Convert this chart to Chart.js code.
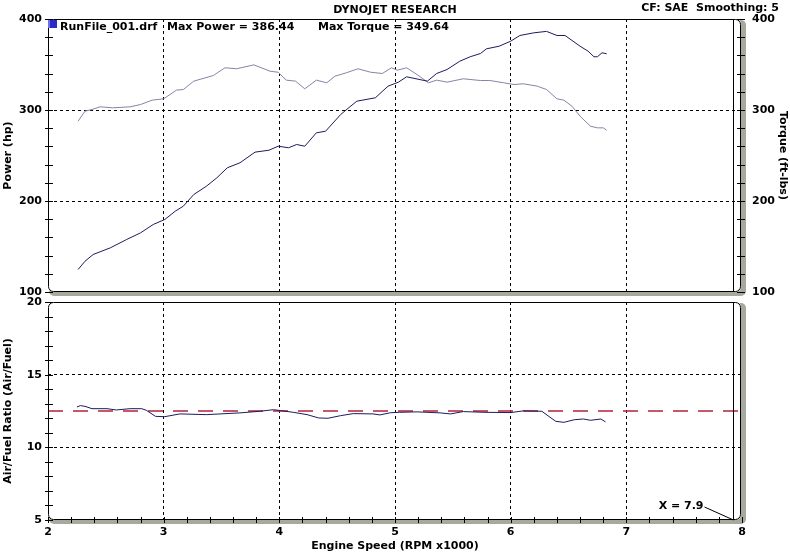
<!DOCTYPE html>
<html>
<head>
<meta charset="utf-8">
<script src="https://cdn.jsdelivr.net/npm/chart.js@4"></script>
<style>
  body { margin: 0; background: #fff; width: 790px; height: 553px; position: relative; overflow: hidden;
         font-family: "DejaVu Sans", Verdana, sans-serif; font-weight: bold; font-size: 11px; color: #000; }
  .txt { position: absolute; white-space: pre; line-height: 13px; }
  #topChart { position: absolute; left: 0; top: 0; }
  #afrChart { position: absolute; left: 0; top: 296px; }
  #legendBox { position: absolute; left: 48px; top: 20px; width: 9px; height: 8px; background: #2a2ac4; border-left: 2px solid #6f6ff0; box-sizing: border-box; }
</style>
</head>
<body>
<canvas id="topChart" width="790" height="300"></canvas>
<canvas id="afrChart" width="790" height="257"></canvas>
<div class="txt" style="left:0;width:790px;text-align:center;top:3px">DYNOJET RESEARCH</div>
<div class="txt" style="right:11px;top:1px">CF: SAE  Smoothing: 5</div>
<div id="legendBox"></div>
<div class="txt" style="left:60px;top:20px">RunFile_001.drf</div>
<div class="txt" id="maxPower" style="left:167px;top:20px"></div>
<div class="txt" id="maxTorque" style="left:318px;top:20px"></div>
<script>
// run values
const maxPower = "386.44";
const maxTorque = "349.64";
const cursorRpm = 7.92;
const cursorLabel = "X = 7.9";
const targetAfr = 12.5;

const powerRpm = [2.26, 2.32, 2.39, 2.54, 2.68, 2.80, 2.91, 3.01, 3.10, 3.17, 3.26, 3.37, 3.46, 3.55, 3.66,
  3.79, 3.91, 3.99, 4.08, 4.15, 4.22, 4.32, 4.40, 4.53, 4.61, 4.67, 4.83, 4.94, 5.03, 5.10, 5.28, 5.36,
  5.45, 5.56, 5.65, 5.74, 5.79, 5.90, 6.00, 6.08, 6.20, 6.31, 6.40, 6.47, 6.60, 6.67, 6.72, 6.75, 6.79, 6.83];
const powerHp = [124.7, 133.8, 141.2, 148.6, 157.7, 165, 174.2, 179.7, 188.8, 194.3, 207.1, 216.3, 225.5, 236.5, 242,
  253.7, 255.8, 260.2, 258.5, 262.1, 260.2, 274.9, 276.7, 295, 303.5, 309.7, 313.4, 326.2, 330.6, 336.5, 331.7, 340.1,
  344.5, 353.6, 358.5, 362.1, 367.2, 370.1, 375.6, 381.9, 384.8, 386.4, 381.9, 381.9, 370.1, 364.6, 358.5, 358.5, 362.9, 361.8];

const torqueRpm = [2.26, 2.32, 2.38, 2.45, 2.56, 2.71, 2.80, 2.90, 3.00, 3.11, 3.17, 3.26, 3.43, 3.53, 3.63,
  3.78, 3.92, 3.99, 4.06, 4.14, 4.22, 4.32, 4.41, 4.48, 4.58, 4.68, 4.79, 4.89, 4.97, 5.02, 5.10, 5.19, 5.29,
  5.36, 5.45, 5.59, 5.74, 5.82, 5.94, 6.03, 6.11, 6.23, 6.31, 6.40, 6.46, 6.53, 6.60, 6.69, 6.75, 6.80, 6.83];
const torqueFtLbs = [287.7, 298.7, 300.5, 303.5, 302.4, 303.5, 306, 310.8, 312.3, 321.8, 322.5, 331.7, 337.9, 346.4, 345.3,
  349.6, 342.6, 341.5, 332.8, 331.7, 323.3, 332.8, 329.9, 337.1, 340.9, 345.3, 341.5, 340.1, 346.4, 343.7, 346.4, 339, 329.9,
  332.8, 330.6, 334.3, 332.4, 332.4, 329.9, 328, 328.8, 326.2, 322.5, 312.3, 310.8, 304.2, 293.2, 282.2, 280.4, 280.4, 277.8];

const afrRpm = [2.25, 2.28, 2.32, 2.38, 2.51, 2.59, 2.71, 2.81, 2.85, 2.93, 3.01, 3.14, 3.37, 3.66, 3.83,
  3.95, 4.01, 4.12, 4.24, 4.34, 4.42, 4.53, 4.64, 4.81, 4.87, 4.96, 5.04, 5.19, 5.39, 5.48, 5.59, 5.77,
  6.00, 6.11, 6.27, 6.33, 6.39, 6.46, 6.55, 6.63, 6.69, 6.78, 6.82];
const afrRatio = [12.78, 12.87, 12.82, 12.66, 12.66, 12.57, 12.66, 12.66, 12.55, 12.13, 12.11, 12.30, 12.25, 12.37, 12.48,
  12.59, 12.53, 12.41, 12.25, 12.02, 12.0, 12.18, 12.32, 12.30, 12.23, 12.38, 12.41, 12.44, 12.37, 12.30, 12.46, 12.41,
  12.39, 12.51, 12.48, 12.13, 11.79, 11.72, 11.90, 11.95, 11.86, 11.95, 11.75];

const rpmTicks = [2, 3, 4, 5, 6, 7, 8];
const powerTicks = [100, 200, 300, 400];
const afrTicks = [5, 10, 15, 20];

document.getElementById("maxPower").textContent = "Max Power = " + maxPower;
document.getElementById("maxTorque").textContent = "Max Torque = " + maxTorque;

Chart.defaults.font = { family: '"DejaVu Sans", Verdana, sans-serif', size: 11, weight: "bold" };
Chart.defaults.color = "#000";

const pts = (xs, ys) => xs.map((x, i) => ({ x: x, y: ys[i] }));

// dashed grid only on inner values, the frame covers the ends
const innerGrid = (lo, hi) => ctx => (ctx.tick && ctx.tick.value > lo && ctx.tick.value < hi) ? "#000" : "rgba(0,0,0,0)";

// fixed axis width, and drop the label overhang so layout padding decides the plot box
const fixWidth = w => s => { s.width = w; s.paddingTop = 0; s.paddingBottom = 0; };

// rounded panel with grey drop shadow, minor ticks and the cursor line
function panelFrame(opts) {
  return {
    id: "panelFrame",
    beforeDraw(chart) {
      const a = chart.chartArea, ctx = chart.ctx;
      ctx.save();
      ctx.fillStyle = "#a9a89e";
      ctx.beginPath();
      ctx.roundRect(a.left + 1, a.top + 1, a.right - a.left + 3, a.bottom - a.top + 3, 5);
      ctx.fill();
      ctx.fillStyle = "#fff";
      ctx.beginPath();
      ctx.roundRect(a.left, a.top, a.right - a.left - 1, a.bottom - a.top, 5);
      ctx.fill();
      ctx.restore();
    },
    afterDatasetsDraw(chart) {
      const a = chart.chartArea, ctx = chart.ctx;
      ctx.save();
      ctx.strokeStyle = "#000";
      ctx.lineWidth = 1;
      ctx.beginPath();
      ctx.roundRect(a.left + 0.5, a.top + 0.5, a.right - a.left - 2, a.bottom - a.top - 1, 5);
      ctx.stroke();

      const cx = Math.round(chart.scales.x.getPixelForValue(cursorRpm)) + 0.5;
      ctx.beginPath();
      ctx.moveTo(cx, a.top);
      ctx.lineTo(cx, a.bottom);

      const ys = chart.scales.y;
      for (let v = ys.min; v <= ys.max + 1e-6; v += opts.leftStep) {
        const y = Math.round(ys.getPixelForValue(v)) + 0.5;
        ctx.moveTo(a.left - 3, y);
        ctx.lineTo(a.left + 5, y);
      }
      if (opts.rightStep) {
        const ry = chart.scales.y1;
        for (let v = ry.min; v <= ry.max + 1e-6; v += opts.rightStep) {
          const y = Math.round(ry.getPixelForValue(v)) + 0.5;
          ctx.moveTo(a.right - 5, y);
          ctx.lineTo(a.right + 3, y);
        }
      }
      if (opts.bottomStep) {
        const xs = chart.scales.x;
        for (let v = xs.min; v <= xs.max + 1e-6; v += opts.bottomStep) {
          const x = Math.round(xs.getPixelForValue(v)) + 0.5;
          ctx.moveTo(x, a.bottom - 3);
          ctx.lineTo(x, a.bottom + 3);
        }
      }
      ctx.stroke();

      if (opts.cursorText) {
        ctx.font = 'bold 11px "DejaVu Sans", Verdana, sans-serif';
        ctx.fillStyle = "#000";
        ctx.textAlign = "right";
        ctx.textBaseline = "middle";
        ctx.fillText(cursorLabel, cx - 30, a.bottom - 14);
        ctx.beginPath();
        ctx.moveTo(cx - 29, a.bottom - 13);
        ctx.lineTo(cx, a.bottom);
        ctx.stroke();
      }
      ctx.restore();
    }
  };
}

new Chart(document.getElementById("topChart"), {
  type: "line",
  data: {
    datasets: [
      { label: "Power", data: pts(powerRpm, powerHp), yAxisID: "y",
        borderColor: "#1c1c5e", borderWidth: 1, pointRadius: 0, tension: 0 },
      { label: "Torque", data: pts(torqueRpm, torqueFtLbs), yAxisID: "y1",
        borderColor: "#8585a6", borderWidth: 1, pointRadius: 0, tension: 0 }
    ]
  },
  options: {
    responsive: false,
    animation: false,
    layout: { padding: { top: 19, left: 0, right: 0, bottom: 0 } },
    plugins: { legend: { display: false }, tooltip: { enabled: false } },
    scales: {
      x: {
        type: "linear", min: 2, max: 8,
        afterBuildTicks: s => { s.ticks = rpmTicks.map(v => ({ value: v })); },
        ticks: { display: false },
        grid: { drawTicks: false, color: innerGrid(2, 8) },
        border: { display: false, dash: [3, 3] },
        afterFit: s => { s.height = 8; }
      },
      y: {
        position: "left", min: 100, max: 400,
        afterBuildTicks: s => { s.ticks = powerTicks.map(v => ({ value: v })); },
        ticks: { padding: 6 },
        grid: { drawTicks: false, color: innerGrid(100, 400) },
        border: { display: false, dash: [3, 3] },
        title: { display: true, text: "Power (hp)", padding: { top: 2, bottom: 0 } },
        afterFit: fixWidth(48)
      },
      y1: {
        position: "right", min: 100, max: 400,
        afterBuildTicks: s => { s.ticks = powerTicks.map(v => ({ value: v })); },
        ticks: { padding: 10 },
        grid: { display: false, drawTicks: false },
        border: { display: false },
        title: { display: true, text: "Torque (ft-lbs)", padding: { top: 1, bottom: 0 } },
        afterFit: fixWidth(48)
      }
    }
  },
  plugins: [panelFrame({ leftStep: 20, rightStep: 20 })]
});

new Chart(document.getElementById("afrChart"), {
  type: "line",
  data: {
    datasets: [
      { label: "AFR", data: pts(afrRpm, afrRatio),
        borderColor: "#1c1c5e", borderWidth: 1, pointRadius: 0, tension: 0 },
      { label: "Target", data: [{ x: 2, y: targetAfr }, { x: 8, y: targetAfr }],
        borderColor: "#b5223c", borderWidth: 1.3, borderDash: [15, 10], pointRadius: 0 }
    ]
  },
  options: {
    responsive: false,
    animation: false,
    layout: { padding: { top: 6, left: 0, right: 48, bottom: 0 } },
    plugins: { legend: { display: false }, tooltip: { enabled: false } },
    scales: {
      x: {
        type: "linear", min: 2, max: 8,
        afterBuildTicks: s => { s.ticks = rpmTicks.map(v => ({ value: v })); },
        ticks: { padding: 6 },
        grid: { drawTicks: false, color: innerGrid(2, 8) },
        border: { display: false, dash: [3, 3] },
        title: { display: true, text: "Engine Speed (RPM x1000)", padding: { top: 0, bottom: 0 } },
        afterFit: s => { s.height = 33; }
      },
      y: {
        position: "left", min: 5, max: 20,
        afterBuildTicks: s => { s.ticks = afrTicks.map(v => ({ value: v })); },
        ticks: { padding: 6 },
        grid: { drawTicks: false, color: innerGrid(5, 20) },
        border: { display: false, dash: [3, 3] },
        title: { display: true, text: "Air/Fuel Ratio (Air/Fuel)", padding: { top: 2, bottom: 0 } },
        afterFit: fixWidth(48)
      }
    }
  },
  plugins: [panelFrame({ leftStep: 1, bottomStep: 0.2, cursorText: true })]
});
</script>
</body>
</html>
